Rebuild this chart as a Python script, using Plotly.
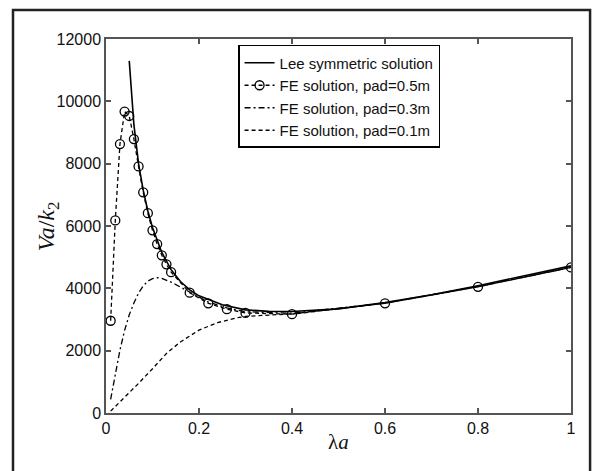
import plotly.graph_objects as go

# Lee symmetric solution
lee_x = [0.05, 0.055, 0.06, 0.07, 0.08, 0.09, 0.10, 0.12, 0.14, 0.16, 0.18, 0.20,
         0.25, 0.30, 0.35, 0.40, 0.50, 0.60, 0.70, 0.80, 0.90, 1.00]
lee_y = [11300, 10150, 9250, 8000, 7150, 6480, 5950, 5150, 4600, 4220, 3950, 3760,
         3470, 3310, 3260, 3255, 3340, 3545, 3795, 4085, 4395, 4720]

# FE solution, pad=0.5m
pad05_x = [0.01, 0.02, 0.03, 0.04, 0.05, 0.06, 0.07, 0.08, 0.09, 0.10, 0.11, 0.12,
           0.13, 0.14, 0.18, 0.22, 0.26, 0.30, 0.40, 0.60, 0.80, 1.00]
pad05_y = [2960, 6180, 8630, 9670, 9530, 8790, 7910, 7080, 6410, 5860, 5420, 5060,
           4770, 4520, 3860, 3520, 3330, 3210, 3170, 3520, 4050, 4670]

# FE solution, pad=0.3m
pad03_x = [0.01, 0.02, 0.03, 0.04, 0.05, 0.06, 0.07, 0.08, 0.09, 0.10, 0.11, 0.12,
           0.13, 0.14, 0.16, 0.18, 0.20, 0.22, 0.26, 0.30, 0.40, 0.60, 0.80, 1.00]
pad03_y = [440, 1250, 2020, 2650, 3150, 3530, 3850, 4080, 4230, 4310, 4340, 4320,
           4270, 4200, 4040, 3880, 3700, 3560, 3370, 3250, 3200, 3530, 4060, 4680]

# FE solution, pad=0.1m
pad01_x = [0.01, 0.03, 0.05, 0.07, 0.10, 0.13, 0.16, 0.20, 0.24, 0.28, 0.30, 0.35,
           0.40, 0.60, 0.80, 1.00]
pad01_y = [60, 350, 640, 950, 1420, 1910, 2280, 2660, 2900, 3050, 3100, 3150,
           3180, 3520, 4050, 4670]

x_ticks = [0, 0.2, 0.4, 0.6, 0.8, 1]
y_ticks = [0, 2000, 4000, 6000, 8000, 10000, 12000]

fig = go.Figure()
fig.add_trace(go.Scatter(x=lee_x, y=lee_y, mode="lines", name="Lee symmetric solution",
                         line=dict(color="black", width=1.6)))
fig.add_trace(go.Scatter(x=pad05_x, y=pad05_y, mode="lines+markers",
                         name="FE solution, pad=0.5m",
                         line=dict(color="black", width=1.3, dash="4px,3px"),
                         marker=dict(symbol="circle-open", size=9, color="black",
                                     line=dict(width=1.3, color="black"))))
fig.add_trace(go.Scatter(x=pad03_x, y=pad03_y, mode="lines", name="FE solution, pad=0.3m",
                         line=dict(color="black", width=1.3, dash="6px,3px,2px,3px")))
fig.add_trace(go.Scatter(x=pad01_x, y=pad01_y, mode="lines", name="FE solution, pad=0.1m",
                         line=dict(color="black", width=1.3, dash="4px,3px")))

axis_common = dict(showgrid=False, zeroline=False, showline=True, linecolor="#555",
                   linewidth=1.5, mirror="ticks", ticks="inside", ticklen=5,
                   tickcolor="#555", tickwidth=1.5,
                   tickfont=dict(family="Arial, Liberation Sans", size=16, color="#111"))

serif = dict(family="Liberation Serif, Times New Roman", color="#111")

fig.update_layout(
    width=597, height=471,
    margin=dict(l=106, r=26, t=39, b=58),
    paper_bgcolor="white", plot_bgcolor="white",
    showlegend=True,
    legend=dict(x=0.284, y=0.984, xanchor="left", yanchor="top",
                bordercolor="black", borderwidth=1.5, bgcolor="white",
                font=dict(family="Arial, Liberation Sans", size=15, color="#111"),
                tracegroupgap=0, itemwidth=30),
    xaxis=dict(range=[0, 1], tickvals=x_ticks, ticktext=[str(v) for v in x_ticks],
               **axis_common),
    yaxis=dict(range=[0, 12000], tickvals=y_ticks, ticktext=[str(v) for v in y_ticks],
               **axis_common),
    annotations=[
        dict(text="λ<i>a</i>", xref="paper", yref="paper", x=0.5, y=-0.0775,
             xanchor="center", yanchor="middle", showarrow=False,
             font=dict(size=21, **serif)),
        dict(text="<i>Va</i>/<i>k</i><sub>2</sub>", xref="paper", yref="paper",
             x=-0.124, y=0.5, xanchor="center", yanchor="middle", showarrow=False,
             textangle=-90, font=dict(size=24, **serif)),
    ],
    shapes=[dict(type="rect", xref="paper", yref="paper",
                 x0=-0.2, x1=1.041, y0=-0.17, y1=1.0775,
                 line=dict(color="#222", width=2.5), fillcolor="rgba(0,0,0,0)")],
)

fig.write_html("out.html")
